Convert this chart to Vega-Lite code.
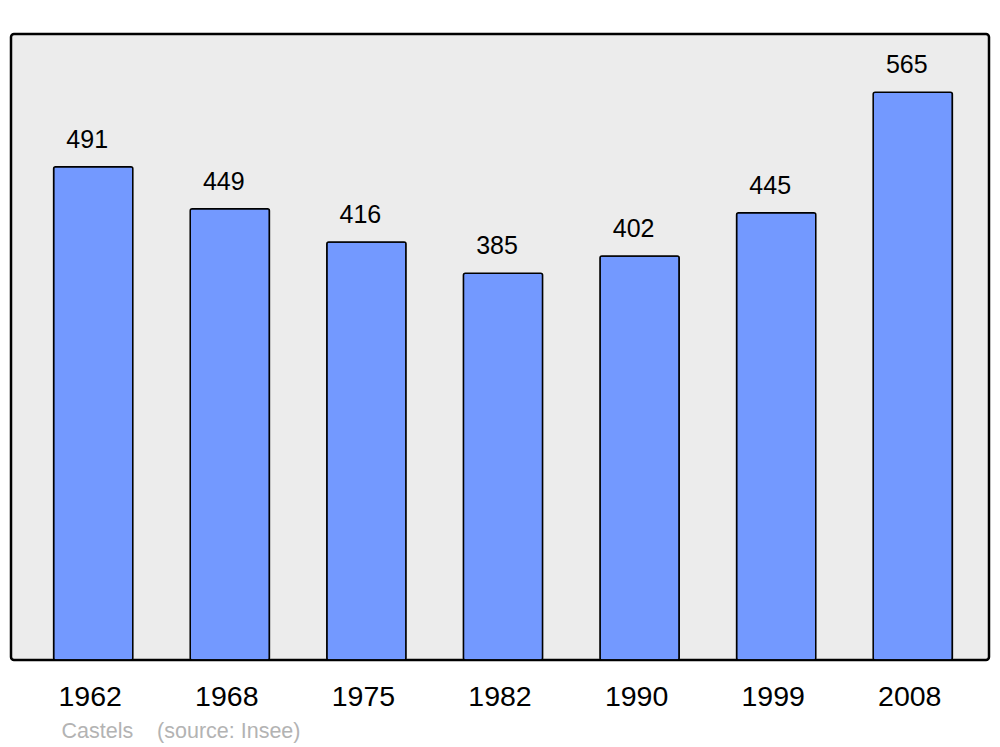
{
  "$schema": "https://vega.github.io/schema/vega-lite/v6.json",
  "width": 978,
  "height": 626,
  "autosize": "none",
  "padding": {"left": 11, "top": 34, "right": 11, "bottom": 87},
  "background": "white",
  "config": {
    "font": "Liberation Sans",
    "view": {"fill": "#ececec", "stroke": "#000000", "strokeWidth": 2.5, "cornerRadius": 3}
  },
  "data": {
    "values": [
      {"year": "1962", "pop": 491},
      {"year": "1968", "pop": 449},
      {"year": "1975", "pop": 416},
      {"year": "1982", "pop": 385},
      {"year": "1990", "pop": 402},
      {"year": "1999", "pop": 445},
      {"year": "2008", "pop": 565}
    ]
  },
  "encoding": {
    "x": {
      "field": "year",
      "type": "nominal",
      "sort": null,
      "scale": {"paddingInner": 0.42, "paddingOuter": 0.29, "range": [3, 981]},
      "axis": {
        "title": "Castels\u00a0\u00a0\u00a0\u00a0(source: Insee)",
        "titleFont": "Liberation Sans",
        "titleFontSize": 21.5,
        "titleFontWeight": "normal",
        "titleColor": "#b3b3b3",
        "titleAnchor": "start",
        "titleAlign": "left",
        "titleBaseline": "alphabetic",
        "titleX": 50,
        "titleY": 77,
        "labelAngle": 0,
        "labelFontSize": 28.5,
        "labelColor": "#000000",
        "labelPadding": 22,
        "labelOffset": -3,
        "labelFont": "Liberation Sans",
        "domain": false,
        "ticks": false
      }
    },
    "y": {
      "field": "pop",
      "type": "quantitative",
      "scale": {"domain": [0, 623], "nice": false, "zero": true},
      "axis": null
    }
  },
  "layer": [
    {
      "mark": {"type": "bar", "fill": "#7399ff", "stroke": "#000000", "strokeWidth": 1.5, "cornerRadius": 2}
    },
    {
      "mark": {"type": "text", "fontSize": 25, "baseline": "alphabetic", "dy": -19, "color": "#000000", "font": "Liberation Sans", "dx": -6},
      "encoding": {"text": {"field": "pop", "type": "quantitative"}}
    }
  ]
}
